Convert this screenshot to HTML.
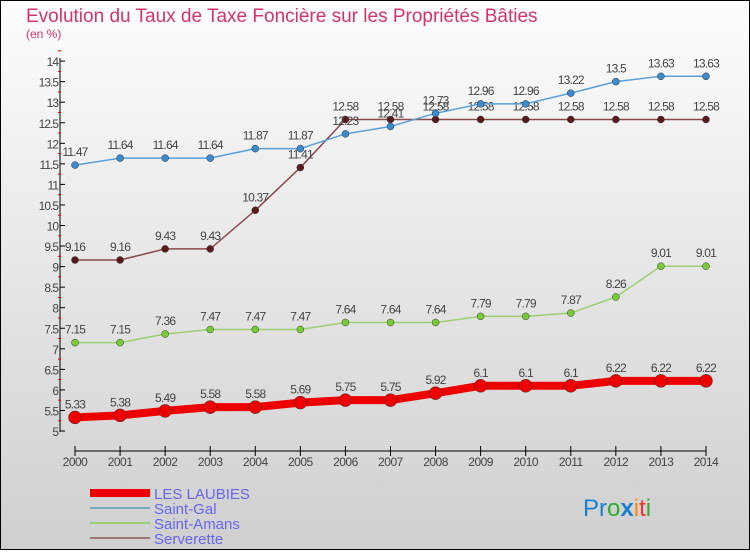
<!DOCTYPE html>
<html><head><meta charset="utf-8"><style>
body{margin:0;width:750px;height:550px;overflow:hidden;font-family:"Liberation Sans",sans-serif}
</style></head><body>
<svg width="750" height="550" xmlns="http://www.w3.org/2000/svg">
<defs><linearGradient id="bg" x1="0" y1="0" x2="0" y2="1"><stop offset="0" stop-color="#fdfdfd"/><stop offset="1" stop-color="#cfcfcf"/></linearGradient></defs>
<rect x="0.5" y="0.5" width="749" height="549" fill="url(#bg)" stroke="#000"/>
<text x="26" y="22" font-size="19" fill="#d6336c">Evolution du Taux de Taxe Foncière sur les Propriétés Bâties</text>
<text x="26" y="38" font-size="12" fill="#d6336c">(en %)</text>
<g id="axes"></g><g id="series"></g>
<g font-size="15" fill="#6666ee">
<rect x="90" y="489" width="60" height="8" fill="#e00"/>
<text x="154" y="499">LES LAUBIES</text>
<rect x="90" y="507" width="60" height="2" fill="#7ab"/>
<text x="154" y="514">Saint-Gal</text>
<rect x="90" y="522" width="60" height="2" fill="#9c7"/>
<text x="154" y="529">Saint-Amans</text>
<rect x="90" y="537" width="60" height="2" fill="#977"/>
<text x="154" y="544">Serverette</text>
</g>
<text x="583" y="516" font-size="24"><tspan fill="#1a7fd0">Pr</tspan><tspan fill="#3a3">o</tspan><tspan fill="#1a7fd0" font-weight="bold">x</tspan><tspan fill="#f80">i</tspan><tspan fill="#e33">t</tspan><tspan fill="#3a3">i</tspan></text>
</svg>
<script>
const years=[2000,2001,2002,2003,2004,2005,2006,2007,2008,2009,2010,2011,2012,2013,2014];
const laubies=[5.33,5.38,5.49,5.58,5.58,5.69,5.75,5.75,5.92,6.1,6.1,6.1,6.22,6.22,6.22];
const saintGal=[11.47,11.64,11.64,11.64,11.87,11.87,12.23,12.41,12.73,12.96,12.96,13.22,13.5,13.63,13.63];
const saintAmans=[7.15,7.15,7.36,7.47,7.47,7.47,7.64,7.64,7.64,7.79,7.79,7.87,8.26,9.01,9.01];
const serverette=[9.16,9.16,9.43,9.43,10.37,11.41,12.58,12.58,12.58,12.58,12.58,12.58,12.58,12.58,12.58];
const yTicks=[5,5.5,6,6.5,7,7.5,8,8.5,9,9.5,10,10.5,11,11.5,12,12.5,13,13.5,14];
const NS="http://www.w3.org/2000/svg";
const X=i=>75+i*45.07, Y=v=>431-(v-5)*41.1;
function mk(t,a,p){const e=document.createElementNS(NS,t);for(const k in a)e.setAttribute(k,a[k]);p.appendChild(e);return e;}
const ax=document.getElementById('axes'), sg=document.getElementById('series');
let l=mk('line',{x1:60,y1:58,x2:60,y2:432,stroke:'#000'},ax);


yTicks.forEach(v=>{
 mk('line',{x1:60,y1:Y(v),x2:65,y2:Y(v),stroke:'#000'},ax);
 mk('line',{x1:58,y1:Y(v+0.25),x2:61,y2:Y(v+0.25),stroke:'#e00'},ax);
 const t=mk('text',{x:58,y:Y(v)+5,'text-anchor':'end','font-size':12,fill:'#444','letter-spacing':'-1'},ax);
 t.textContent=v;
 
 
});
l=mk('line',{x1:75,y1:451,x2:706,y2:451,stroke:'#000'},ax);


years.forEach((y,i)=>{
 mk('line',{x1:X(i),y1:446,x2:X(i),y2:456,stroke:'#000'},ax);
 const t=mk('text',{x:X(i),y:466,'text-anchor':'middle','font-size':12,fill:'#444','letter-spacing':'-0.5'},ax);
 t.textContent=y;
 
 
});
function series(vals,color,dot,w,r,name){
 const g=mk('g',{},sg);
 
 
 mk('polyline',{points:vals.map((v,i)=>X(i)+','+Y(v)).join(' '),fill:'none',stroke:color,'stroke-width':w},g);
 vals.forEach((v,i)=>{
  const c=mk('circle',{cx:X(i),cy:Y(v),r:r,fill:dot,stroke:'#333','stroke-width':0.5},g);
  
  
  const t=mk('text',{x:X(i),y:Y(v)-9,'text-anchor':'middle','font-size':12,fill:'#444','letter-spacing':'-0.8'},g);
  t.textContent=v;
  
  
 });
}
series(saintAmans,'#9ccf72','#7c3','1.5',3.5,'saint-amans');
series(serverette,'#8a4a4a','#5a1a1a','1.5',3.5,'serverette');
series(saintGal,'#5aa0d8','#3a8ad0','1.5',3.5,'saint-gal');
series(laubies,'#ee0000','#ee0000','8',6.5,'les-laubies');
</script>
</body></html>
